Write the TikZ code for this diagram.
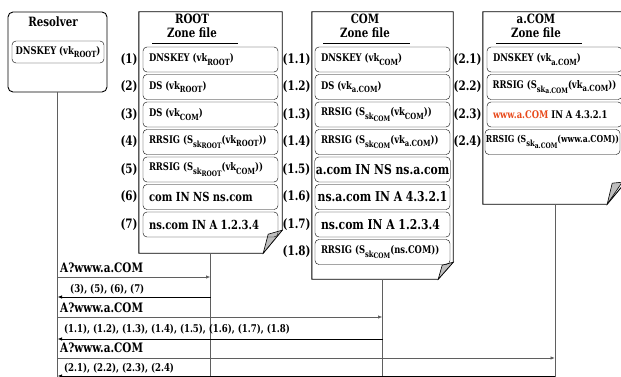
\documentclass[tikz,border=0pt]{standalone}
\usepackage{fontspec}
\setmainfont{DejaVu Serif}[FakeStretch=0.8]
\usetikzlibrary{arrows.meta,calc}
\definecolor{wwwred}{RGB}{232,74,28}
\definecolor{linegray}{RGB}{95,95,95}
\definecolor{foldgray}{RGB}{190,190,190}
\newcommand\vk[1]{vk\raisebox{-3.5pt}{\fontsize{8.5}{8.5}\selectfont #1}}
\newcommand\sig[1]{S\raisebox{-4pt}{\fontsize{8.5}{8.5}\selectfont sk\raisebox{-1.5pt}{\fontsize{7.5}{7.5}\selectfont #1}}}
\newcommand\ent[1]{\makebox[123pt][l]{#1}}
\begin{document}
\begin{tikzpicture}[x=1pt, y=-1pt, >={Latex[length=4.5pt,width=3.5pt]},
  rec/.style={draw, rounded corners=4pt, minimum width=135pt, minimum height=25pt, inner xsep=1pt, font=\bfseries\fontsize{10.5}{12}\selectfont},
  bigrec/.style={rec, font=\bfseries\fontsize{12.5}{14}\selectfont},
  hugerec/.style={rec, font=\bfseries\fontsize{13.5}{15}\selectfont},
  zone/.style={rectangle, inner sep=0pt},
  ttl/.style={align=center, font=\bfseries\fontsize{12.8}{14}\selectfont},
  num/.style={anchor=east, inner sep=0pt, font=\bfseries\fontsize{13}{14}\selectfont},
  msg/.style={anchor=west, inner sep=0pt, font=\bfseries\fontsize{13}{14}\selectfont},
  ans/.style={anchor=west, inner sep=0pt, font=\bfseries\fontsize{10.7}{12}\selectfont},
  life/.style={draw=linegray, line width=1pt},
  ask/.style={draw=linegray, line width=1pt, ->},
  back/.style={draw=black, line width=0.9pt, ->}]
\useasboundingbox (0,0) rectangle (621,377);

\node[draw, rounded corners=5pt, minimum width=99pt, minimum height=80pt, line width=0.9pt] (r) at (57.5,52) {};
\node[ttl] (rt0) at (53,22) {Resolver};
\node[rec, minimum width=92pt, minimum height=22pt] (rk) at (58,52) {DNSKEY (\vk{ROOT})};

\node[zone, minimum width=143pt, minimum height=241pt] (rt) at (210.5,132.5) {};
\node[zone, minimum width=141pt, minimum height=267pt] (cm) at (382.5,145.5) {};
\node[zone, minimum width=144pt, minimum height=192pt] (ac) at (555,108) {};

\draw[line width=0.9pt] (rt.north west) -- (rt.north east) -- ($(rt.south east)+(0,-23)$) -- ($(rt.south east)+(-19,0)$) -- (rt.south west) -- cycle;
\draw[line width=0.6pt, fill=foldgray] ($(rt.south east)+(-19,0)$) -- ($(rt.south east)+(-14,-19)$) -- ($(rt.south east)+(0,-23)$) -- cycle;
\draw[line width=0.9pt] (cm.north west) -- (cm.north east) -- ($(cm.south east)+(0,-17)$) -- ($(cm.south east)+(-15,0)$) -- (cm.south west) -- cycle;
\draw[line width=0.6pt, fill=foldgray] ($(cm.south east)+(-15,0)$) -- ($(cm.south east)+(-11,-14)$) -- ($(cm.south east)+(0,-17)$) -- cycle;
\draw[line width=0.9pt] (ac.north west) -- (ac.north east) -- ($(ac.south east)+(0,-24)$) -- ($(ac.south east)+(-20,0)$) -- (ac.south west) -- cycle;
\draw[line width=0.6pt, fill=foldgray] ($(ac.south east)+(-20,0)$) -- ($(ac.south east)+(-15,-21)$) -- ($(ac.south east)+(-5,-22)$) -- cycle;

\node[ttl] (rtt) at (192,26) {ROOT\\Zone file};
\node[ttl] (cmt) at (365,26) {COM\\Zone file};
\node[ttl] (act) at (536,26) {a.COM\\Zone file};
\draw[line width=0.9pt] (152,43) -- (238,43);
\draw[line width=0.9pt] (323,43) -- (410,43);
\draw[line width=0.9pt] (496,43) -- (582,43);

\node[rec] (rt1) at (210.5,59.5) {\ent{DNSKEY (\vk{ROOT})}};
\node[rec] (rt2) at (210.5,87) {\ent{DS (\vk{ROOT})}};
\node[rec] (rt3) at (210.5,114.5) {\ent{DS (\vk{COM})}};
\node[rec] (rt4) at (210.5,142) {\ent{RRSIG (\sig{ROOT}(\vk{ROOT}))}};
\node[rec] (rt5) at (210.5,169.5) {\ent{RRSIG (\sig{ROOT}(\vk{COM}))}};
\node[bigrec] (rt6) at (210.5,197) {\ent{com IN NS ns.com}};
\node[bigrec] (rt7) at (210.5,224.5) {\ent{ns.com IN A 1.2.3.4}};

\node[num] (n1) at ([xshift=-5pt]rt1.west) {(1)};
\node[num] (n2) at ([xshift=-5pt]rt2.west) {(2)};
\node[num] (n3) at ([xshift=-5pt]rt3.west) {(3)};
\node[num] (n4) at ([xshift=-5pt]rt4.west) {(4)};
\node[num] (n5) at ([xshift=-5pt]rt5.west) {(5)};
\node[num] (n6) at ([xshift=-5pt]rt6.west) {(6)};
\node[num] (n7) at ([xshift=-5pt]rt7.west) {(7)};

\node[rec] (cm1) at (382.5,59.5) {\ent{DNSKEY (\vk{COM})}};
\node[rec] (cm2) at (382.5,87) {\ent{DS (\vk{a.COM})}};
\node[rec] (cm3) at (382.5,114.5) {\ent{RRSIG (\sig{COM}(\vk{COM}))}};
\node[rec] (cm4) at (382.5,142) {\ent{RRSIG (\sig{COM}(\vk{a.COM}))}};
\node[hugerec] (cm5) at (382.5,169.5) {a.com IN NS ns.a.com};
\node[hugerec] (cm6) at (382.5,197) {ns.a.com IN A 4.3.2.1};
\node[hugerec] (cm7) at (382.5,224.5) {\ent{ns.com IN A 1.2.3.4}};
\node[rec] (cm8) at (382.5,252) {\ent{RRSIG (\sig{COM}(ns.COM))}};

\node[num] (n11) at ([xshift=-4pt]cm1.west) {(1.1)};
\node[num] (n12) at ([xshift=-4pt]cm2.west) {(1.2)};
\node[num] (n13) at ([xshift=-4pt]cm3.west) {(1.3)};
\node[num] (n14) at ([xshift=-4pt]cm4.west) {(1.4)};
\node[num] (n15) at ([xshift=-4pt]cm5.west) {(1.5)};
\node[num] (n16) at ([xshift=-4pt]cm6.west) {(1.6)};
\node[num] (n17) at ([xshift=-4pt]cm7.west) {(1.7)};
\node[num] (n18) at ([xshift=-4pt]cm8.west) {(1.8)};

\node[rec] (ac1) at (554.5,59.5) {\ent{DNSKEY (\vk{a.COM})}};
\node[rec] (ac2) at (554.5,87) {RRSIG (\sig{a.COM}(\vk{a.COM}))};
\node[rec] (ac3) at (554.5,114.5) {\ent{\textcolor{wwwred}{www.a.COM} IN A 4.3.2.1}};
\node[rec, font=\bfseries\fontsize{9.6}{11}\selectfont] (ac4) at (552.5,142) {RRSIG (\sig{a.COM}(www.a.COM))};

\node[num] (n21) at ([xshift=-5pt]ac1.west) {(2.1)};
\node[num] (n22) at ([xshift=-5pt]ac2.west) {(2.2)};
\node[num] (n23) at ([xshift=-5pt]ac3.west) {(2.3)};
\node[num] (n24) at ([xshift=-3pt]ac4.west) {(2.4)};

\coordinate (bot) at (0,380);
\draw[life] (r.south) -- (r.south |- bot);
\draw[life] (rt.south) -- (rt.south |- bot);
\draw[life] (cm.south) -- (cm.south |- bot);
\draw[life] (ac.south) -- (ac.south |- bot);

\coordinate (m1) at (0,277);
\coordinate (m2) at (0,297);
\coordinate (m3) at (0,317);
\coordinate (m4) at (0,339);
\coordinate (m5) at (0,358);
\coordinate (m6) at (0,376);
\draw[ask] (r.south |- m1) -- (rt.south |- m1);
\draw[back] (rt.south |- m2) -- (r.south |- m2);
\draw[ask] (r.south |- m3) -- (cm.south |- m3);
\draw[back] (cm.south |- m4) -- (r.south |- m4);
\draw[ask] (r.south |- m5) -- (ac.south |- m5);
\draw[back] (ac.south |- m6) -- (r.south |- m6);

\node[msg] (q1) at (60,268) {A?www.a.COM};
\node[ans] (a1) at (70,289) {(3), (5), (6), (7)};
\node[msg] (q2) at (60,308) {A?www.a.COM};
\node[ans] (a2) at (64,329) {(1.1), (1.2), (1.3), (1.4), (1.5), (1.6), (1.7), (1.8)};
\node[msg] (q3) at (60,348) {A?www.a.COM};
\node[ans] (a3) at (64,368) {(2.1), (2.2), (2.3), (2.4)};
\end{tikzpicture}
\end{document}
